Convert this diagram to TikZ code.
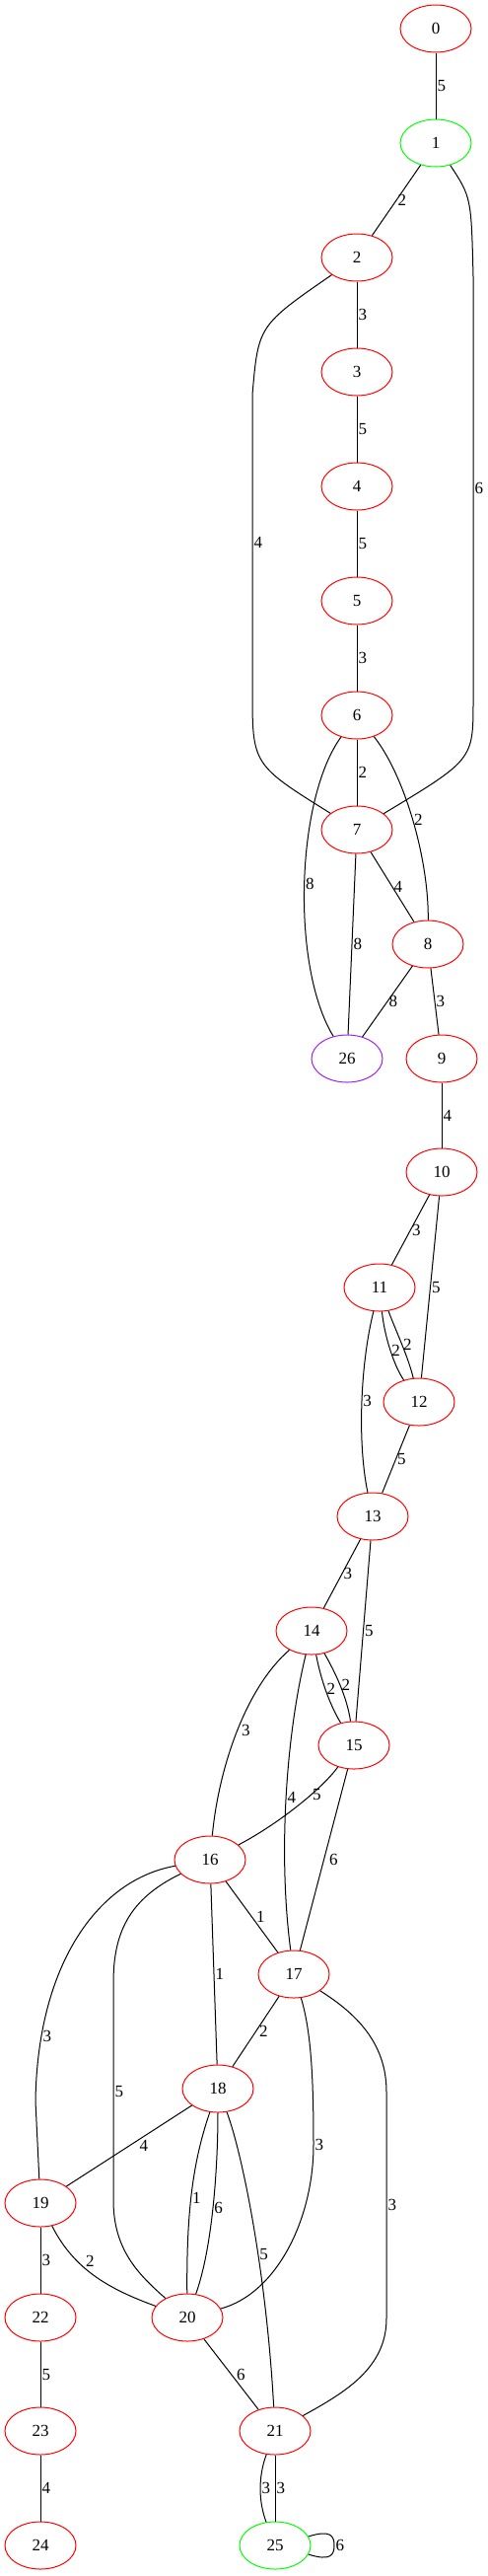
\documentclass[tikz,border=0pt]{standalone}
\usepackage{fontspec}
\setmainfont{Liberation Serif}
\usepackage{tikz}
\usetikzlibrary{shapes.geometric}
\definecolor{gvpurple}{RGB}{160,32,240}

\begin{document}
\begin{tikzpicture}[x=1pt, y=-1pt, line width=1pt, font=\fontsize{17}{20}\selectfont,
            vertex/.style={ellipse, draw=red, minimum width=72pt, minimum height=48pt, inner sep=0pt},
            endpoint/.style={vertex, draw=green},
            sink/.style={vertex, draw=gvpurple},
            wlabel/.style={anchor=west, inner sep=1pt}
        ]
\useasboundingbox (0,0) rectangle (495,2611);

% Upper chain
            \node[vertex] (n0) at (442,29) {0};
            \node[endpoint] (n1) at (442,145) {1};
            \node[vertex] (n2) at (362,261) {2};
            \node[vertex] (n3) at (362,377) {3};
            \node[vertex] (n4) at (362,493) {4};
            \node[vertex] (n5) at (362,609) {5};
            \node[vertex] (n6) at (362,725) {6};
            \node[vertex] (n7) at (362,841) {7};
            \node[vertex] (n8) at (434,957) {8};
            \node[sink] (n26) at (352,1073) {26};
            \node[vertex] (n9) at (448,1073) {9};
            \node[vertex] (n10) at (448,1188) {10};
            \node[vertex] (n11) at (385,1305) {11};
            \node[vertex] (n12) at (425,1421) {12};
            \node[vertex] (n13) at (378,1537) {13};
            \node[vertex] (n14) at (316,1653) {14};
            \node[vertex] (n15) at (359,1769) {15};

% Lower part
            \node[vertex] (n16) at (213,1885) {16};
            \node[vertex] (n17) at (298,2001) {17};
            \node[vertex] (n18) at (221,2117) {18};
            \node[vertex] (n19) at (41,2233) {19};
            \node[vertex] (n20) at (190,2349) {20};
            \node[vertex] (n21) at (279,2464) {21};
            \node[vertex] (n22) at (41,2349) {22};
            \node[vertex] (n23) at (41,2464) {23};
            \node[vertex] (n24) at (41,2580) {24};
            \node[endpoint] (n25) at (279,2580) {25};

% Edges
            \draw (n0) -- node[wlabel]{5} (n1);
            \draw (n1) -- node[wlabel]{2} (n2);
            \draw (n1) .. controls (478,200) .. (480,280) -- node[wlabel]{6} (480,710) .. controls (480,770) .. (n7);
            \draw (n2) -- node[wlabel]{3} (n3);
            \draw (n2) .. controls (262,330) .. (256,400) -- node[wlabel]{4} (256,700) .. controls (256,775) .. (n7);
            \draw (n3) -- node[wlabel]{5} (n4);
            \draw (n4) -- node[wlabel]{5} (n5);
            \draw (n5) -- node[wlabel]{3} (n6);
            \draw (n6) -- node[wlabel]{2} (n7);
            \draw (n6) .. controls (410,785) and (435,870) .. node[wlabel]{2} (n8);
            \draw (n6) .. controls (300,810) and (295,980) .. node[wlabel]{8} (n26);
            \draw (n7) -- node[wlabel]{4} (n8);
            \draw (n7) -- node[wlabel]{8} (n26);
            \draw (n8) -- node[wlabel]{8} (n26);
            \draw (n8) -- node[wlabel]{3} (n9);
            \draw (n9) -- node[wlabel]{4} (n10);
            \draw (n10) -- node[wlabel]{3} (n11);
            \draw (n10) -- node[wlabel]{5} (n12);
            \draw (n11) .. controls (390,1355) and (400,1385) .. node[wlabel]{2} (n12);
            \draw (n11) .. controls (402,1350) and (414,1375) .. node[wlabel]{2} (n12);
            \draw (n11) .. controls (366,1380) and (362,1460) .. node[wlabel]{3} (n13);
            \draw (n12) -- node[wlabel]{5} (n13);
            \draw (n13) -- node[wlabel]{3} (n14);
            \draw (n13) -- node[wlabel]{5} (n15);
            \draw (n14) .. controls (325,1700) and (333,1725) .. node[wlabel]{2} (n15);
            \draw (n14) .. controls (340,1695) and (352,1720) .. node[wlabel]{2} (n15);
            \draw (n14) .. controls (250,1710) and (222,1790) .. node[wlabel, xshift=3pt]{3} (n16);
            \draw (n14) .. controls (290,1760) and (282,1880) .. node[wlabel]{4} (n17);
            \draw (n15) .. controls (325,1815) and (280,1850) .. node[wlabel, pos=0.35]{5} (n16);
            \draw (n15) -- node[wlabel, xshift=4pt]{6} (n17);
            \draw (n16) -- node[wlabel, xshift=3pt]{1} (n17);
            \draw (n16) -- node[wlabel]{1} (n18);
            \draw (n16) .. controls (100,1905) and (38,1990) .. node[wlabel, pos=0.83]{3} (36,2130) -- (n19);
            \draw (n16) .. controls (130,1925) and (115,1960) .. (115,2010) -- node[wlabel]{5} (115,2230) .. controls (115,2280) and (140,2305) .. (n20);
            \draw (n17) -- node[wlabel, xshift=2pt]{2} (n18);
            \draw (n17) .. controls (316,2060) and (318,2110) .. (318,2174) node[wlabel]{3} .. controls (318,2250) and (280,2325) .. (n20);
            \draw (n17) .. controls (360,2040) and (392,2070) .. (392,2120) -- node[wlabel]{3} (392,2350) .. controls (392,2400) and (350,2425) .. (n21);
            \draw (n18) -- node[wlabel, xshift=9pt]{4} (n19);
            \draw (n18) .. controls (196,2190) and (189,2240) .. node[wlabel, pos=0.55]{1} (n20);
            \draw (n18) .. controls (221,2200) and (215,2280) .. node[wlabel]{6} (n20);
            \draw (n18) .. controls (245,2180) and (270,2300) .. node[wlabel, pos=0.6]{5} (n21);
            \draw (n19) .. controls (75,2300) and (110,2320) .. node[wlabel, pos=0.4, anchor=south west]{2} (n20);
            \draw (n19) -- node[wlabel]{3} (n22);
            \draw (n20) -- node[wlabel, xshift=4pt]{6} (n21);
            \draw (n21) .. controls (262,2510) and (262,2535) .. node[wlabel]{3} (n25);
            \draw (n21) -- node[wlabel]{3} (n25);
            \draw (n22) -- node[wlabel]{5} (n23);
            \draw (n23) -- node[wlabel]{4} (n24);
            \draw (n25.15) .. controls (335,2564) and (339,2570) .. (339,2580) node[wlabel]{6} .. controls (339,2590) and (335,2596) .. (n25.-15);

        \end{tikzpicture}
\end{document}
